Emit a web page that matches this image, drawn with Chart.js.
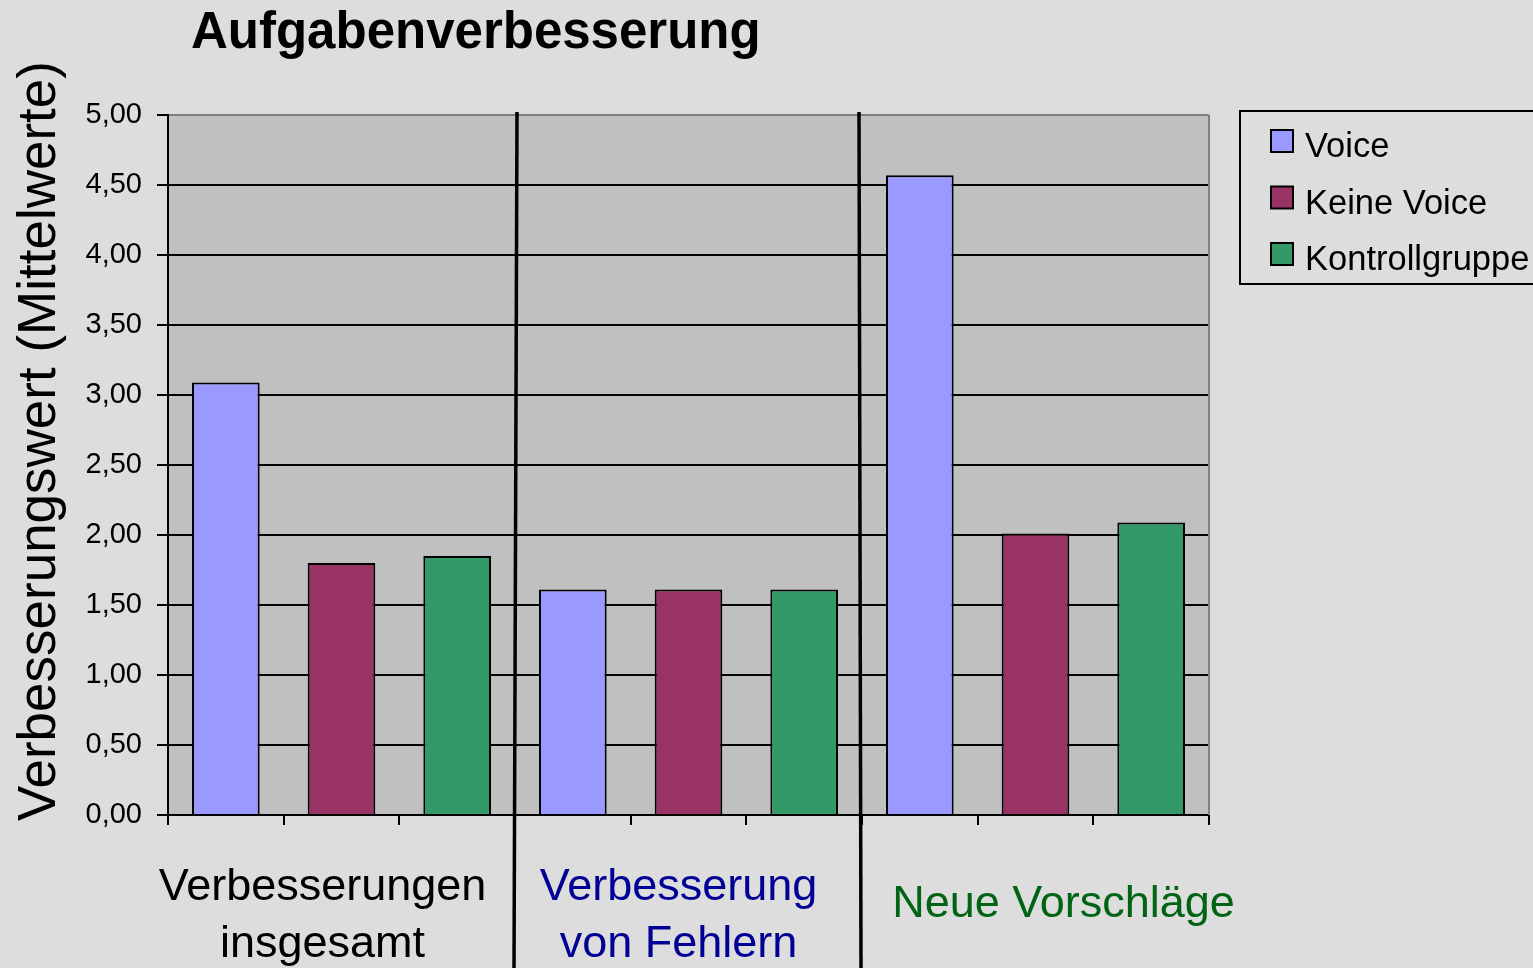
<!DOCTYPE html>
<html>
<head>
<meta charset="utf-8">
<script src="https://cdn.jsdelivr.net/npm/chart.js@4/dist/chart.umd.min.js"></script>
<style>
  html, body { margin: 0; padding: 0; background: #DDDDDD; }
  canvas { display: block; }
</style>
</head>
<body>
<canvas id="c" width="1533" height="968"></canvas>
<script>
// ---- Data ----
const chartTitle = 'Aufgabenverbesserung';
const yAxisTitle = 'Verbesserungswert (Mittelwerte)';
const categories = [
  'Verbesserungen insgesamt – Voice', 'Verbesserungen insgesamt – Keine Voice', 'Verbesserungen insgesamt – Kontrollgruppe',
  'Verbesserung von Fehlern – Voice', 'Verbesserung von Fehlern – Keine Voice', 'Verbesserung von Fehlern – Kontrollgruppe',
  'Neue Vorschläge – Voice', 'Neue Vorschläge – Keine Voice', 'Neue Vorschläge – Kontrollgruppe'
];
const groupLabels = [['Verbesserungen', 'insgesamt'], ['Verbesserung', 'von Fehlern'], ['Neue Vorschläge']];
const seriesNames = ['Voice', 'Keine Voice', 'Kontrollgruppe'];
const voiceValues       = [3.09, null, null, 1.61, null, null, 4.57, null, null];
const keineVoiceValues  = [null, 1.80, null, null, 1.61, null, null, 2.01, null];
const kontrollValues    = [null, null, 1.85, null, null, 1.61, null, null, 2.09];
const yTicks = [0, 0.5, 1, 1.5, 2, 2.5, 3, 3.5, 4, 4.5, 5];

// ---- Styles ----
const FONT = '"Liberation Sans", Arial, Helvetica, sans-serif';
const seriesColors = ['#9999FF', '#993366', '#339966'];
const groupColors = ['#000000', '#000096', '#006414'];
const groupOffsets = [-19, -10, 28];
const separatorSlant = [[2, -1], [-3, -1]];

const decorPlugin = {
  id: 'decor',
  beforeDraw(chart) {
    const ctx = chart.ctx, a = chart.chartArea;
    ctx.save();
    ctx.fillStyle = '#DDDDDD';
    ctx.fillRect(0, 0, chart.width, chart.height);
    ctx.fillStyle = '#C0C0C0';
    ctx.fillRect(a.left, a.top, a.right - a.left, a.bottom - a.top);
    ctx.restore();
  },
  afterDraw(chart) {
    const ctx = chart.ctx, a = chart.chartArea;
    const xs = chart.scales.x;
    ctx.save();
    // right border (grey)
    ctx.strokeStyle = '#808080';
    ctx.lineWidth = 2;
    ctx.beginPath();
    ctx.moveTo(a.right, a.top);
    ctx.lineTo(a.right, a.bottom);
    ctx.stroke();

    // group separators
    ctx.strokeStyle = '#000';
    ctx.lineWidth = 3.5;
    [3, 6].forEach((i, k) => {
      const bx = (xs.getPixelForValue(i - 1) + xs.getPixelForValue(i)) / 2;
      ctx.beginPath();
      ctx.moveTo(bx + separatorSlant[k][0], a.top - 3);
      ctx.lineTo(bx + separatorSlant[k][1], chart.height);
      ctx.stroke();
    });

    // group labels
    ctx.font = '45px ' + FONT;
    ctx.textAlign = 'center';
    ctx.textBaseline = 'alphabetic';
    groupLabels.forEach((lines, g) => {
      const cx = (xs.getPixelForValue(g * 3) + xs.getPixelForValue(g * 3 + 2)) / 2 + groupOffsets[g];
      ctx.fillStyle = groupColors[g];
      if (lines.length === 1) {
        ctx.fillText(lines[0], cx, a.bottom + 102);
      } else {
        lines.forEach((ln, k) => ctx.fillText(ln, cx, a.bottom + 85 + k * 57));
      }
    });

    // title
    ctx.fillStyle = '#000';
    ctx.font = 'bold 51px ' + FONT;
    ctx.textAlign = 'left';
    ctx.fillText(chartTitle, 191, 48);

    // y axis title
    ctx.save();
    ctx.translate(55, 441);
    ctx.rotate(-Math.PI / 2);
    ctx.font = '53px ' + FONT;
    ctx.textAlign = 'center';
    ctx.fillText(yAxisTitle, 0, 0);
    ctx.restore();

    // legend
    ctx.fillStyle = '#DDDDDD';
    ctx.fillRect(1240, 111, 320, 173);
    ctx.strokeStyle = '#000';
    ctx.lineWidth = 2;
    ctx.strokeRect(1240, 111, 320, 173);
    ctx.font = '34.5px ' + FONT;
    ctx.textAlign = 'left';
    chart.data.datasets.forEach((ds, i) => {
      const top = 130 + i * 56.5;
      ctx.fillStyle = ds.backgroundColor;
      ctx.fillRect(1271, top, 22, 22);
      ctx.strokeStyle = '#000';
      ctx.lineWidth = 2;
      ctx.strokeRect(1271, top, 22, 22);
      ctx.fillStyle = '#000';
      ctx.fillText(ds.label, 1305, top + 27);
    });
    ctx.restore();
  }
};

new Chart(document.getElementById('c'), {
  type: 'bar',
  data: {
    labels: categories,
    datasets: [
      { label: seriesNames[0], data: voiceValues, backgroundColor: seriesColors[0] },
      { label: seriesNames[1], data: keineVoiceValues, backgroundColor: seriesColors[1] },
      { label: seriesNames[2], data: kontrollValues, backgroundColor: seriesColors[2] }
    ]
  },
  options: {
    responsive: false,
    animation: false,
    devicePixelRatio: 1,
    layout: { padding: { left: 0, top: 115, right: 324, bottom: 0 } },
    datasets: {
      bar: { borderColor: '#000', borderWidth: 2, barPercentage: 0.585, categoryPercentage: 1 }
    },
    plugins: {
      legend: { display: false },
      title: { display: false },
      tooltip: { enabled: false }
    },
    scales: {
      x: {
        stacked: true,
        offset: true,
        grid: { offset: true, drawOnChartArea: false, drawTicks: true, tickLength: 10, color: '#000', lineWidth: 2 },
        border: { display: true, color: '#000', width: 2 },
        ticks: { callback: () => '', font: { size: 10 } },
        afterFit(scale) { scale.height = 153; }
      },
      y: {
        min: 0,
        max: 5,
        afterBuildTicks(scale) { scale.ticks = yTicks.map(v => ({ value: v })); },
        grid: {
          color: (c) => (c.tick && c.tick.value === 5 ? '#808080' : '#000'),
          tickColor: '#000',
          lineWidth: 2,
          tickLength: 11
        },
        border: { display: true, color: '#000', width: 2 },
        ticks: {
          padding: 15,
          color: '#000',
          font: { family: FONT, size: 29 },
          callback: (v) => Number(v).toFixed(2).replace('.', ',')
        },
        afterFit(scale) { scale.width = 168; }
      }
    }
  },
  plugins: [decorPlugin]
});
</script>
</body>
</html>
